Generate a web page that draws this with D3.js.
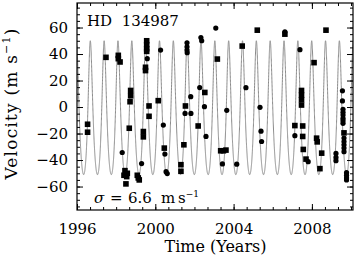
<!DOCTYPE html>
<html lang="en">
<head>
<meta charset="UTF-8">
<title>HD 134987</title>
<script src="https://cdn.jsdelivr.net/npm/d3@7"></script>
<style>
  body { margin: 0; background: #fff; }
  text { font-family: "DejaVu Serif", serif; fill: #000; }
</style>
</head>
<body>
<div id="chart"></div>
<script>
// square markers: [year, velocity (m/s)]
const squarePts = [
  [1996.54, -13], [1996.54, -19], [1997.48, 37.5],
  [1998.11, 39], [1998.11, 36.5], [1998.20, 34],
  [1998.74, 12.5], [1998.74, 8.5], [1998.71, 4], [1998.67, -16],
  [1998.45, -48], [1998.57, -50], [1998.40, -51.5], [1998.54, -52.5], [1998.50, -58],
  [1999.08, -51.5], [1999.13, -53.5], [1999.18, -55],
  [1999.39, -18.5], [1999.39, -22.5],
  [1999.56, 50], [1999.56, 47], [1999.56, 44], [1999.56, 42],
  [1999.50, 30], [1999.50, 27.5], [1999.68, 0.8], [1999.68, -7],
  [2000.15, 4.8], [2000.46, -31],
  [2001.31, -43.5], [2001.31, -48.5], [2001.46, -28.5], [2001.54, 0.8],
  [2002.19, -14.3], [2002.53, 11], [2003.17, 36.2],
  [2003.34, -33], [2003.48, -33], [2003.61, -32.5],
  [2004.44, 46], [2005.21, 58], [2006.62, 55],
  [2007.13, -14], [2007.47, 12.5], [2007.47, 9], [2007.47, 5.5], [2007.47, 1.5],
  [2007.53, -14.3], [2007.53, -22.2], [2007.56, -32], [2007.70, -39.3],
  [2008.11, 33.5], [2008.24, -23.5], [2008.27, -26.3], [2008.50, -34.8], [2008.41, -46.5],
  [2008.72, 58], [2009.64, -19.5]
];

// circle markers: [year, velocity (m/s)]
const circlePts = [
  [1999.59, 36.5], [2000.27, 43], [2000.41, -13.6],
  [1998.31, -34.3], [1999.30, -42.7],
  [2000.49, -35.5], [2000.55, -48.8], [2000.61, -50.2],
  [2001.62, 48.5], [2001.62, 45.5], [2001.62, 43], [2001.63, 41],
  [2001.52, -4.8], [2001.82, -4.8], [2001.81, 7.8],
  [2002.33, 52.4], [2002.37, 50], [2002.27, 14.7], [2002.51, 0.3], [2002.59, -22.2],
  [2003.09, 59.6], [2003.65, -2.5], [2003.43, -42.9], [2004.16, -43.1],
  [2004.63, 14.6], [2005.35, -0.2], [2005.40, -18.2], [2005.43, -26],
  [2006.62, 56.8], [2007.39, 43.3], [2007.13, -21.6], [2007.81, -41.2],
  [2009.23, -35], [2009.23, -38], [2009.23, -40.5],
  [2009.56, 12.2], [2009.56, 4.6],
  [2009.59, -1.7], [2009.59, -4], [2009.59, -6], [2009.59, -8.5], [2009.59, -10.3], [2009.59, -12.3],
  [2009.64, -23.4], [2009.64, -26], [2009.64, -28.5], [2009.64, -31], [2009.64, -33.7],
  [2009.77, -49.5], [2009.77, -51.5], [2009.77, -53.5], [2009.77, -55]
];

const xMajor = [1996, 2000, 2004, 2008];
const yMajor = [-60, -40, -20, 0, 20, 40, 60];

// orbit fit
const period = 258.19 / 365.25;   // years
const K = 50.5, ecc = 0.23, omega = 353 * Math.PI / 180;
const tPeak = 1996.68, vPeak = 50;

const width = 360, height = 256;
const plotL = 77, plotR = 353, plotT = 3, plotB = 210;

const svg = d3.select("#chart").append("svg")
  .attr("width", width).attr("height", height);

const x = d3.scaleLinear().domain([1996, 2010.1]).range([plotL, plotR]);
const y = d3.scaleLinear().domain([-77.7, 78.5]).range([plotB, plotT]);

// keplerian model curve
const gamma = vPeak - K * (1 + ecc * Math.cos(omega));
const nuPeak = 2 * Math.PI - omega;
const Epk = 2 * Math.atan(Math.sqrt((1 - ecc) / (1 + ecc)) * Math.tan(nuPeak / 2));
const tPeri = tPeak - (Epk - ecc * Math.sin(Epk)) / (2 * Math.PI) * period;

function rv(t) {
  const M = 2 * Math.PI * (t - tPeri) / period;
  let E = M;
  for (let i = 0; i < 30; i++) E -= (E - ecc * Math.sin(E) - M) / (1 - ecc * Math.cos(E));
  const nu = 2 * Math.atan(Math.sqrt((1 + ecc) / (1 - ecc)) * Math.tan(E / 2));
  return K * (Math.cos(nu + omega) + ecc * Math.cos(omega)) + gamma;
}
const model = d3.range(1996, 2010.1, 0.002).map(t => [t, rv(t)]);

svg.append("clipPath").attr("id", "clip")
  .append("rect").attr("x", plotL).attr("y", plotT)
  .attr("width", plotR - plotL).attr("height", plotB - plotT);

svg.append("path")
  .datum(model)
  .attr("clip-path", "url(#clip)")
  .attr("fill", "none")
  .attr("stroke", "#8a8a8a")
  .attr("stroke-width", 1)
  .attr("d", d3.line().x(d => x(d[0])).y(d => y(d[1])));

// points
svg.selectAll(".sq").data(squarePts).enter().append("rect")
  .attr("class", "sq")
  .attr("x", d => x(d[0]) - 2.8).attr("y", d => y(d[1]) - 2.8)
  .attr("width", 5.6).attr("height", 5.6)
  .attr("fill", "#000");

svg.selectAll(".ci").data(circlePts).enter().append("circle")
  .attr("class", "ci")
  .attr("cx", d => x(d[0])).attr("cy", d => y(d[1]))
  .attr("r", 2.6)
  .attr("fill", "#000");

// axes, ticks point inward on all four sides
const xMinor = d3.range(0, 22).map(k => 1996 + k * 4 / 6).filter(v => v <= 2010.1);
const yMinor = d3.range(-75, 80, 5);

function addAxis(axis, tx, ty) {
  const g = svg.append("g").attr("transform", `translate(${tx},${ty})`).call(axis);
  g.select(".domain").remove();
  g.selectAll("line").attr("stroke", "#000");
  return g;
}

const xb = addAxis(d3.axisBottom(x).tickValues(xMajor).tickFormat(d3.format("d"))
  .tickSizeInner(-6).tickSizeOuter(0).tickPadding(13), 0, plotB);
addAxis(d3.axisBottom(x).tickValues(xMinor).tickFormat("").tickSizeInner(-3).tickSizeOuter(0), 0, plotB);
addAxis(d3.axisTop(x).tickValues(xMajor).tickFormat("").tickSizeInner(-6).tickSizeOuter(0), 0, plotT);
addAxis(d3.axisTop(x).tickValues(xMinor).tickFormat("").tickSizeInner(-3).tickSizeOuter(0), 0, plotT);

const yl = addAxis(d3.axisLeft(y).tickValues(yMajor).tickFormat(d => d < 0 ? "\u2212" + (-d) : d)
  .tickSizeInner(-6).tickSizeOuter(0).tickPadding(9), plotL, 0);
addAxis(d3.axisLeft(y).tickValues(yMinor).tickFormat("").tickSizeInner(-3).tickSizeOuter(0), plotL, 0);
addAxis(d3.axisRight(y).tickValues(yMajor).tickFormat("").tickSizeInner(-6).tickSizeOuter(0), plotR, 0);
addAxis(d3.axisRight(y).tickValues(yMinor).tickFormat("").tickSizeInner(-3).tickSizeOuter(0), plotR, 0);

xb.selectAll("text").style("font-size", "15px").style("font-family", "DejaVu Serif");
yl.selectAll("text").style("font-size", "15px").style("font-family", "DejaVu Serif");

svg.append("rect")
  .attr("x", plotL).attr("y", plotT)
  .attr("width", plotR - plotL).attr("height", plotB - plotT)
  .attr("fill", "none").attr("stroke", "#000").attr("stroke-width", 1.2);

// labels
svg.append("text")
  .attr("x", 87).attr("y", 26)
  .style("font-size", "15px").style("white-space", "pre")
  .text("HD  134987");

const sig = svg.append("text").attr("y", 203).style("font-size", "15px");
sig.append("tspan").attr("x", 94).style("font-style", "italic").text("\u03c3");
sig.append("tspan").attr("x", 110).text("=");
sig.append("tspan").attr("x", 128).text("6.6");
sig.append("tspan").attr("x", 161).text("m");
sig.append("tspan").attr("x", 178).text("s");
sig.append("tspan").attr("dy", -6).style("font-size", "9px").text("\u22121");

svg.append("text")
  .attr("x", 215.5).attr("y", 252)
  .attr("text-anchor", "middle")
  .style("font-size", "16px")
  .text("Time (Years)");

const yt = svg.append("text")
  .attr("transform", "translate(17,103.5) rotate(-90)")
  .attr("text-anchor", "middle")
  .style("font-size", "17px")
  .style("letter-spacing", "1.2px");
yt.append("tspan").text("Velocity (m s");
yt.append("tspan").attr("dy", -7).style("font-size", "11px").text("\u22121");
yt.append("tspan").attr("dy", 7).text(")");
</script>
</body>
</html>
